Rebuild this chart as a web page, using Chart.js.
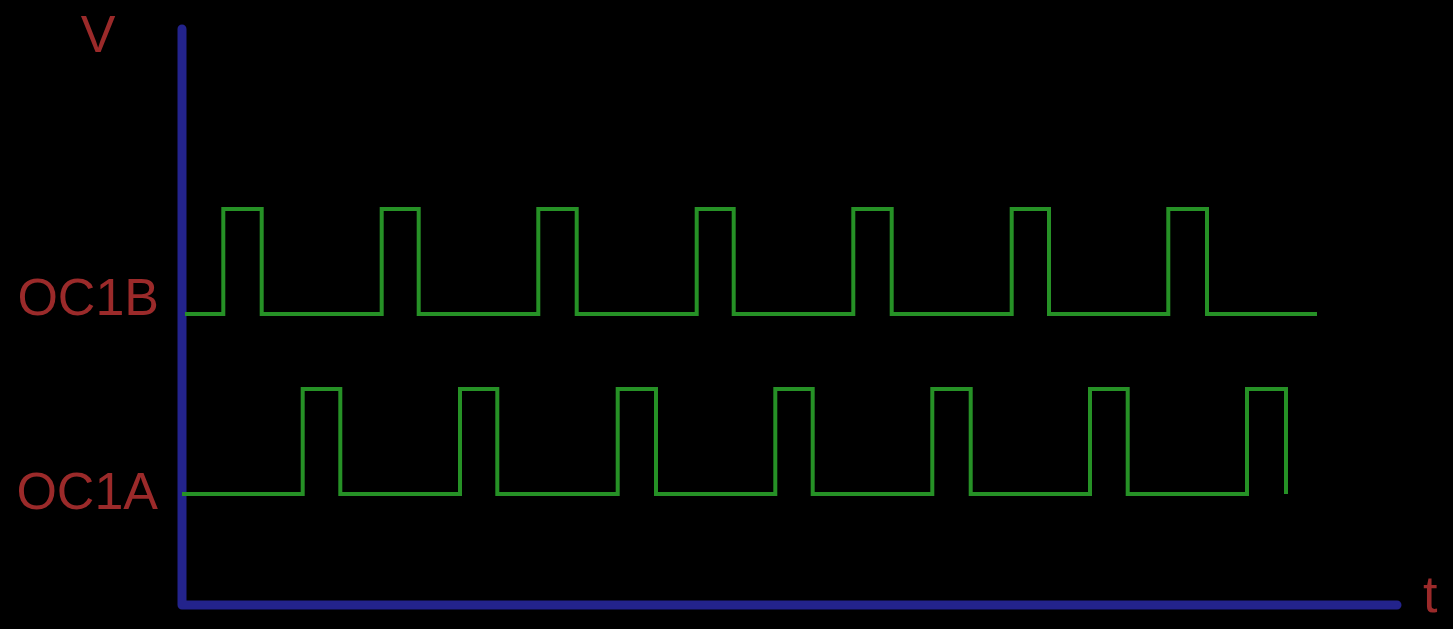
<!DOCTYPE html>
<html>
<head>
<meta charset="utf-8">
<script src="https://cdn.jsdelivr.net/npm/chart.js@4"></script>
<style>
  html, body { margin: 0; padding: 0; background: #000; }
  #wrap { width: 1453px; height: 629px; }
</style>
</head>
<body>
<div id="wrap"><canvas id="c" width="1453" height="629"></canvas></div>
<script>
// ---- data (time units along t, level units along V) ----
const oc1bTimes  = [3, 41.3, 79.7, 199.7, 236.7, 356.3, 394.7, 514.7, 551.7, 671.3, 709.7, 829.7, 867, 986.3, 1025, 1135];
const oc1bStates = [0, 1,    0,    1,     0,     1,     0,     1,     0,     1,     0,     1,     0,   1,     0,    0];
const oc1aTimes  = [0, 120.7, 158.3, 278, 315.3, 435.7, 474, 593.3, 630.7, 750.3, 788.7, 908, 945.7, 1065, 1104];
const oc1aStates = [0, 1,     0,     1,   0,     1,     0,   1,     0,     1,     0,     1,   0,     1,    0];
const oc1bLevels = [291, 396];   // low, high
const oc1aLevels = [111, 216];   // low, high
const tMax = 1215;
const vMax = 577;
const axisTop = 576;
const labels = { v: 'V', t: 't', b: 'OC1B', a: 'OC1A' };

const GREEN = 'rgb(38,145,38)';
const BLUE = 'rgb(35,35,140)';
const RED = 'rgb(155,42,42)';

const toPts = (times, states, levels) => times.map((t, i) => ({ x: t, y: levels[states[i]] }));

const labelPlugin = {
  id: 'labels',
  afterDraw(chart) {
    const { ctx, scales: { x, y } } = chart;
    ctx.save();
    ctx.fillStyle = RED;
    ctx.font = '52px "Liberation Sans", Arial, sans-serif';
    ctx.textBaseline = 'alphabetic';
    const x0 = x.getPixelForValue(0);
    const y0 = y.getPixelForValue(0);
    ctx.textAlign = 'right';
    ctx.fillText(labels.b, x0 - 23, y.getPixelForValue(oc1bLevels[0]) + 1);
    ctx.fillText(labels.a, x0 - 24, y.getPixelForValue(oc1aLevels[0]) + 15);
    ctx.textAlign = 'center';
    ctx.fillText(labels.v, x0 - 84, y.getPixelForValue(vMax) + 24);
    ctx.textAlign = 'left';
    ctx.fillText(labels.t, x.getPixelForValue(tMax) + 26, y0 + 7);
    ctx.restore();
  }
};

new Chart(document.getElementById('c'), {
  type: 'line',
  data: {
    datasets: [
      {
        label: 'OC1B',
        data: toPts(oc1bTimes, oc1bStates, oc1bLevels),
        stepped: true,
        borderColor: GREEN,
        borderWidth: 4,
        borderCapStyle: 'butt',
        borderJoinStyle: 'miter',
        pointRadius: 0,
        fill: false,
        clip: false
      },
      {
        label: 'OC1A',
        data: toPts(oc1aTimes, oc1aStates, oc1aLevels),
        stepped: true,
        borderColor: GREEN,
        borderWidth: 4,
        borderCapStyle: 'butt',
        borderJoinStyle: 'miter',
        pointRadius: 0,
        fill: false,
        clip: false
      },
      {
        label: 'axes',
        data: [{ x: 0, y: axisTop }, { x: 0, y: 0 }, { x: tMax, y: 0 }],
        borderColor: BLUE,
        borderWidth: 9,
        borderCapStyle: 'round',
        borderJoinStyle: 'round',
        pointRadius: 0,
        fill: false,
        clip: false,
        tension: 0
      }
    ]
  },
  options: {
    responsive: false,
    animation: false,
    parsing: true,
    layout: { padding: { left: 182, right: 56, top: 28, bottom: 24 } },
    plugins: { legend: { display: false }, tooltip: { enabled: false } },
    scales: {
      x: { type: 'linear', min: 0, max: tMax, display: false },
      y: { type: 'linear', min: 0, max: vMax, display: false }
    }
  },
  plugins: [labelPlugin]
});
</script>
</body>
</html>
